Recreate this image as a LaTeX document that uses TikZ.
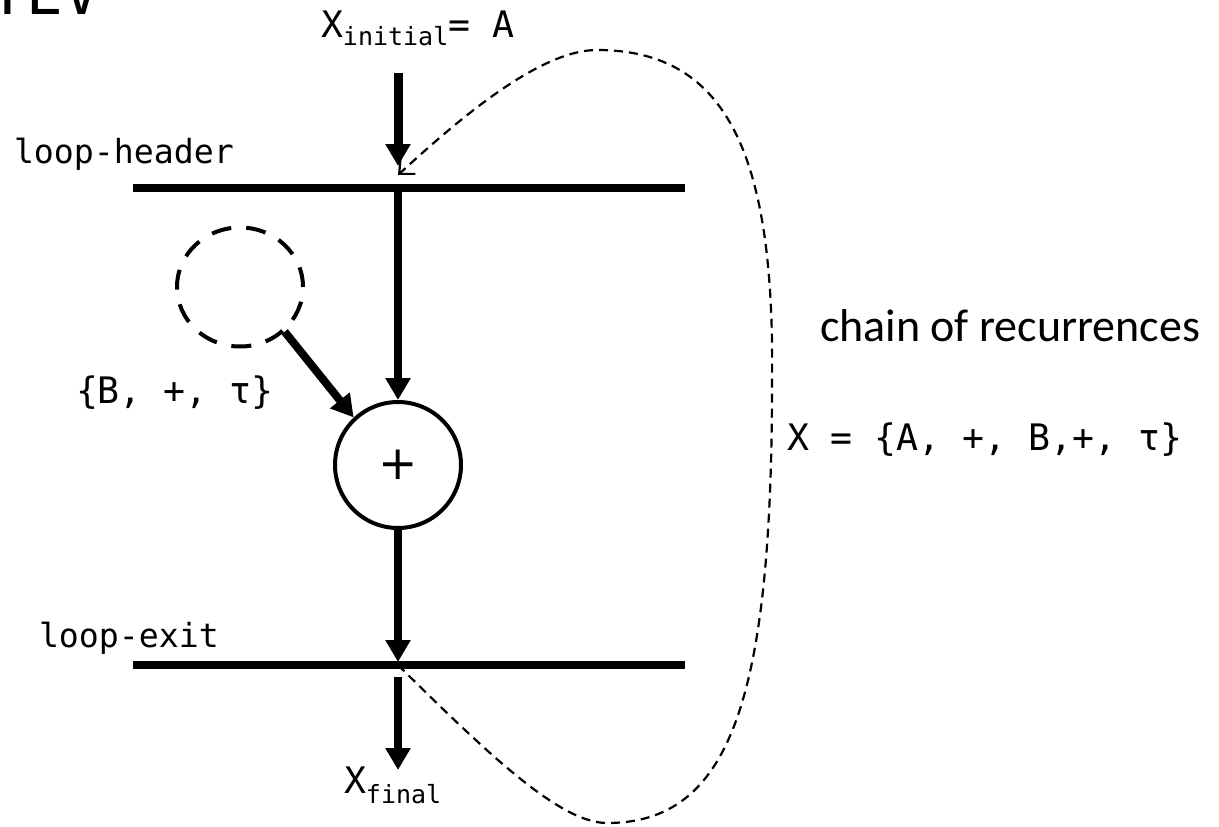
\documentclass[tikz,border=0pt]{standalone}
\usepackage{fontspec}
\newfontfamily\monof{DejaVu Sans Mono}
\newfontfamily\calibrif{Carlito}
\newfontfamily\sansf{DejaVu Sans}
\usetikzlibrary{arrows.meta,shapes.geometric}
\tikzset{
  bar/.style={line width=8pt},
  thickarrow/.style={line width=8pt,-{Triangle[length=22pt,width=24pt]}},
  dashline/.style={line width=2.2pt,dash pattern=on 9pt off 6pt,-{Straight Barb[length=12pt,width=22pt]}},
  lbl/.style={anchor=base west,inner sep=0pt,outer sep=0pt},
}
\begin{document}
\begin{tikzpicture}[x=1pt,y=-1pt]
\useasboundingbox (0,0) rectangle (1219,827);
% clipped title
\node[lbl] (title) at (-10,15) {\monof\fontsize{61}{61}\selectfont TEV};
% top label
\node[lbl] (xi) at (321,37) {\monof\fontsize{36.5}{40}\selectfont X\raisebox{-9pt}{\fontsize{25}{28}\selectfont initial}= A};
% bars
\coordinate (hdrL) at (133,188);
\coordinate (hdrR) at (685,188);
\coordinate (hdrC) at (398,188);
\coordinate (exL) at (133,665);
\coordinate (exR) at (685,665);
\coordinate (exC) at (398,665);
\draw[bar] (hdrL) -- (hdrR);
\draw[bar] (exL) -- (exR);
\node[lbl] (lh) at (14,163) {\monof\fontsize{33.2}{36}\selectfont loop-header};
\node[lbl] (le) at (39,647) {\monof\fontsize{33.2}{36}\selectfont loop-exit};
% circles
\node[circle,draw,line width=4pt,minimum size=126pt,inner sep=0pt] (plus) at (398,465) {\sansf\fontsize{47}{47}\selectfont +};
\node[ellipse,draw,line width=4pt,dash pattern=on 20pt off 15pt,minimum width=126pt,minimum height=119pt,inner sep=0pt] (dc) at (240,287) {};
\node[lbl] (bset) at (76,403) {\monof\fontsize{36.5}{40}\selectfont \{B, +, τ\}};
% arrows
\coordinate (a1s) at (398,73);
\coordinate (a1e) at (398,166);
\draw[thickarrow,line width=9pt] (a1s) -- (a1e);
\draw[thickarrow] (hdrC) -- (plus.north);
\draw[thickarrow,shorten >=3pt] (plus.south) -- (exC);
\draw[thickarrow] (dc.-45) -- (plus.133);
\coordinate (fs) at (398,677);
\coordinate (fe) at (398,770);
\draw[thickarrow] (fs) -- (fe);
\node[lbl] (xf) at (344,793) {\monof\fontsize{36.5}{40}\selectfont X\raisebox{-10pt}{\fontsize{25}{28}\selectfont final}};
% loop-back dashed curve
\coordinate (bot) at (607,823);
\coordinate (rgt) at (772,383);
\coordinate (tp) at (597,50);
\coordinate (hdrTip) at (398,175);
\draw[dashline] (exC) .. controls (488,754) and (560,823) .. (bot)
  .. controls (730,823) and (772,700) .. (rgt)
  .. controls (775,160) and (730,50) .. (tp)
  .. controls (540,50) and (460,118) .. (hdrTip);
% right texts
\node[lbl] (cr) at (820,341) {\calibrif\fontsize{46}{50}\selectfont chain of recurrences};
\node[lbl] (xcr) at (787,450) {\monof\fontsize{36.5}{40}\selectfont X = \{A, +, B,+, τ\}};
\end{tikzpicture}
\end{document}
